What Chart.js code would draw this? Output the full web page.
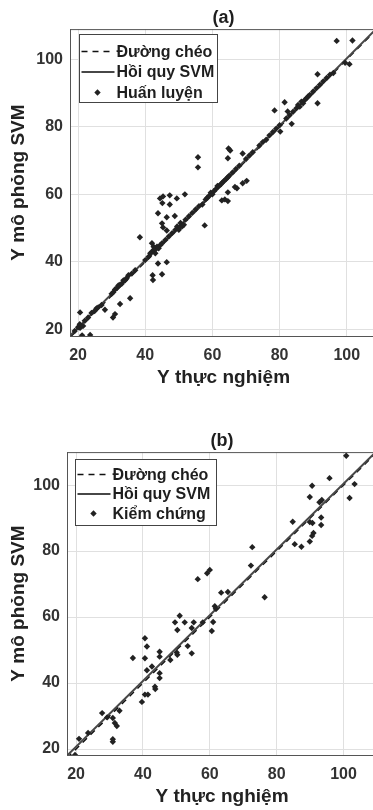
<!DOCTYPE html>
<html>
<head>
<meta charset="utf-8">
<script src="https://cdn.jsdelivr.net/npm/chart.js@4.4.1/dist/chart.umd.min.js"></script>
<style>
  html, body { margin: 0; padding: 0; background: #fff; overflow: hidden; }
  body { width: 373px; height: 810px; position: relative; }
  canvas { position: absolute; left: 0; }
  #chartA { top: 0; }
  #chartB { top: 423px; }
</style>
</head>
<body>
<canvas id="chartA" width="400" height="391"></canvas>
<canvas id="chartB" width="400" height="387"></canvas>
<script>
const xTicks = [20, 40, 60, 80, 100];
const yTicks = [20, 40, 60, 80, 100];

const titleA = '(a)';
const titleB = '(b)';
const xTitle = 'Y thực nghiệm';
const yTitle = 'Y mô phỏng SVM';
const legendA = ['Đường chéo', 'Hồi quy SVM', 'Huấn luyện'];
const legendB = ['Đường chéo', 'Hồi quy SVM', 'Kiểm chứng'];

// axis limits [xmin, xmax, ymin, ymax]
const limitsA = [17.6, 109, 18, 109];
const limitsB = [17.3, 110, 18.2, 110];

// diagonal y = x and the fitted SVM line, as end points
const diagA = [[17.6, 17.6], [109, 109]];
const svmA = [[17.6, 18.1], [109, 109.3]];
const diagB = [[17.3, 17.3], [110, 110]];
const svmB = [[17.3, 18], [110, 110.4]];

// training points (a)
const trainPoints = [
  [97, 105.5], [101.7, 105.6], [99.5, 99], [100.8, 98.6], [91.3, 95.6], [91.3, 87],
  [81.5, 87.3], [78.5, 84.9], [82.4, 84.6], [83.6, 80.9], [80.2, 78.6],
  [64.8, 73.6], [65.3, 73], [55.7, 71], [55.7, 68], [64.6, 70.7], [69, 72.1],
  [70.2, 64], [69, 63.3], [67.3, 61.8], [66.7, 62.2], [64.6, 60.6],
  [62.8, 58.2], [63.7, 58.5], [64.6, 58],
  [44.4, 58.8], [45.3, 59.4], [47.3, 59.7], [49.4, 58.8], [51.8, 60], [45.1, 57.4], [47.3, 57],
  [43.8, 54.4], [46.4, 53.2], [48.8, 53.6], [45, 51.4], [45.3, 50.2], [46.4, 49.3],
  [57.7, 50.8], [38.4, 47.3],
  [43.8, 39.5], [46.4, 39.9], [42.2, 36], [42.3, 34.6], [45, 36.3],
  [30.4, 23.5], [31, 24.5], [32.5, 27.5], [35.5, 29.2], [28, 25.8], [25.5, 26.2],
  [20.6, 25], [23.6, 18.3], [21.2, 18.2], [20.6, 20.4],
  // along the line
  [19, 19.5], [20, 20.6], [20.5, 21.5], [21.5, 21], [22, 22.5], [23, 23.5], [24, 24.8],
  [25, 25.5], [26, 26.5], [27, 27.2],
  [30, 30.5], [30.5, 31], [31, 31.8], [31.5, 32.2], [32, 33], [32.5, 33.2], [33, 33.5],
  [33.5, 34.5], [34, 34.5], [34.5, 35.2], [35, 36], [36, 36.5], [37, 37.5],
  [40, 40.5], [41, 41.5], [41.5, 42.5], [42, 43], [42, 45.5], [42.5, 44.5], [42.5, 43.5],
  [43, 42.5], [43, 44], [43.5, 44.5], [44, 44], [44.5, 45], [45, 45.5], [46, 46.5], [47, 47.5],
  [48, 48.5], [49, 49.5], [49.5, 50.5], [50, 49.5], [50.5, 50.5], [50.5, 51.5], [51, 50.5],
  [51.5, 51], [52, 52.5], [53, 53.5], [54, 54.5], [55, 55.5],
  [56, 56.5], [57, 57], [58, 58.5], [58.5, 59], [59, 59.5], [59.5, 60.5], [60, 60],
  [60.5, 61], [61, 61.5], [61.5, 62.5], [62, 62.5], [62.5, 63], [63, 63.5], [63.5, 64],
  [64, 64.5], [64.5, 65], [65, 65.5], [66, 66.5], [67, 67.5], [68, 68.5],
  [70, 70.5], [71, 71.5], [72, 72.5], [74, 74.5], [75, 75.5], [76, 76.2], [77, 77.5],
  [78, 78.5], [79, 79.5], [80, 80.5],
  [82, 82.5], [83, 83.5], [84, 84.5], [85, 85.5], [85.5, 86.5], [86, 86], [86.5, 87.5],
  [87, 87], [87.5, 88], [88, 88.5], [88.5, 89], [89, 89.5], [90, 90.5], [91, 91.5], [92, 92.5],
  [93, 93.5], [94, 94.5], [95, 95.5], [96, 96]
];

// validation points (b)
const testPoints = [
  [100.8, 108.9], [95.8, 102.1], [103.3, 100.3], [101.8, 96.1], [90.6, 99.8], [89.9, 96.4],
  [92.8, 94.8], [93.5, 95.5],
  [84.8, 88.9], [89.9, 88.8], [90.7, 88.5], [93.3, 90.2], [93.3, 87.9], [91, 85.5],
  [90.6, 84.6], [89.9, 82.9], [85.4, 82.1], [87.4, 81.3],
  [72.7, 81.2], [72.3, 75.6], [56.4, 71.5], [59.2, 73.3], [60, 74.3], [63.4, 67.4],
  [65.4, 67.6], [76.4, 66],
  [61.5, 63.3], [61.8, 62.5], [51, 60.4], [49.6, 58.4], [52.5, 58.4], [55.2, 58.4],
  [57.9, 58.4], [61, 58.5], [50.3, 56.1], [54.6, 56.7], [60.6, 55.8],
  [53.4, 51.2], [54.6, 49], [50.1, 49.3], [50.3, 48.6], [48.2, 47], [45, 49.5], [45, 48],
  [45, 43], [45, 41.5], [42.7, 45], [41.2, 43.9], [40.6, 53.6], [41.2, 51.1], [40.6, 47.5],
  [37, 47.6],
  [43.6, 38.9], [43.7, 38.2], [40.6, 36.5], [41.5, 36.5], [39.7, 34.3],
  [33, 31.6], [31, 29.4], [31.6, 27.9], [32.2, 27], [31, 23], [31, 22.2], [29.3, 29.6],
  [27.8, 30.9], [23.6, 24.9], [20.9, 23.1], [19.7, 18.2]
];

const font = '"Liberation Sans", Arial, sans-serif';
Chart.defaults.font.family = font;
Chart.defaults.color = '#333';

const toXY = list => list.map(p => ({ x: p[0], y: p[1] }));

function drawDiamond(ctx, x, y, r) {
  ctx.beginPath();
  ctx.moveTo(x, y - r);
  ctx.lineTo(x + r, y);
  ctx.lineTo(x, y + r);
  ctx.lineTo(x - r, y);
  ctx.closePath();
  ctx.fill();
}

// legend box inside the plot + top/right frame
const boxLegend = {
  id: 'boxLegend',
  afterDraw(chart, args, opts) {
    const { ctx, chartArea: area } = chart;
    ctx.save();
    ctx.strokeStyle = '#555';
    ctx.lineWidth = 1;
    ctx.beginPath();
    ctx.moveTo(area.left, area.top + 0.5);
    ctx.lineTo(area.right - 0.5, area.top + 0.5);
    ctx.lineTo(area.right - 0.5, area.bottom);
    ctx.stroke();

    const bx = Math.round(area.left + opts.dx) + 0.5;
    const by = Math.round(area.top + opts.dy) + 0.5;
    ctx.fillStyle = '#fff';
    ctx.fillRect(bx, by, opts.w, opts.h);
    ctx.strokeStyle = '#444';
    ctx.strokeRect(bx, by, opts.w, opts.h);

    const sets = chart.data.datasets;
    ctx.font = 'bold 16px ' + font;
    ctx.textBaseline = 'middle';
    ctx.textAlign = 'left';
    opts.labels.forEach((label, i) => {
      const ds = sets[i];
      const ry = by + opts.rows[i];
      if (ds.showLine) {
        ctx.strokeStyle = ds.borderColor;
        ctx.lineWidth = ds.borderWidth;
        ctx.setLineDash(ds.borderDash || []);
        ctx.beginPath();
        ctx.moveTo(bx + 2, ry);
        ctx.lineTo(bx + 35, ry);
        ctx.stroke();
        ctx.setLineDash([]);
      } else {
        ctx.fillStyle = ds.backgroundColor;
        drawDiamond(ctx, bx + 18, ry, ds.pointRadius);
      }
      ctx.fillStyle = '#1e1e1e';
      ctx.fillText(label, bx + 37, ry + 1);
    });
    ctx.restore();
  }
};

function makeChart(id, cfg) {
  const lim = cfg.limits;
  return new Chart(document.getElementById(id), {
    type: 'scatter',
    data: {
      datasets: [
        {
          label: cfg.legend[0],
          data: toXY(cfg.diag),
          showLine: true,
          borderColor: '#111',
          borderWidth: 1.5,
          borderDash: [6, 5],
          pointRadius: 0,
          order: 2
        },
        {
          label: cfg.legend[1],
          data: toXY(cfg.svm),
          showLine: true,
          borderColor: '#474747',
          borderWidth: 2,
          pointRadius: 0,
          order: 1
        },
        {
          label: cfg.legend[2],
          data: toXY(cfg.points),
          backgroundColor: '#222',
          borderWidth: 0,
          pointStyle: 'rectRot',
          pointRadius: 3.2,
          order: 0
        }
      ]
    },
    options: {
      responsive: false,
      animation: false,
      devicePixelRatio: 1,
      layout: { padding: { left: 0, right: 23, top: 0, bottom: 0 } },
      scales: {
        x: {
          type: 'linear',
          min: lim[0],
          max: lim[1],
          afterBuildTicks: s => { s.ticks = xTicks.map(v => ({ value: v })); },
          afterFit: s => { s.height = 55; },
          ticks: { font: { size: 16, weight: 'bold' }, color: '#333', padding: 10 },
          grid: { color: '#e0e0e0', drawTicks: false },
          border: { color: '#555', width: 1 },
          title: {
            display: true,
            text: xTitle,
            color: '#222',
            font: { size: 19, weight: 'bold' },
            padding: { top: 0, bottom: 1.6 }
          }
        },
        y: {
          type: 'linear',
          min: lim[2],
          max: lim[3],
          afterBuildTicks: s => { s.ticks = yTicks.map(v => ({ value: v })); },
          afterFit: s => { s.width = cfg.yWidth; },
          ticks: { font: { size: 16, weight: 'bold' }, color: '#333', padding: 7 },
          grid: { color: '#e0e0e0', drawTicks: false },
          border: { color: '#555', width: 1 },
          title: {
            display: true,
            text: yTitle,
            color: '#222',
            font: { size: 19, weight: 'bold' },
            padding: { top: 7.6, bottom: 0 }
          }
        }
      },
      plugins: {
        legend: { display: false },
        tooltip: { enabled: false },
        title: {
          display: true,
          text: cfg.title,
          fullSize: false,
          color: '#1e1e1e',
          font: { size: 18, weight: 'bold' },
          padding: { top: 7.5, bottom: 0 }
        },
        boxLegend: {
          labels: cfg.legend,
          dx: cfg.box[0], dy: cfg.box[1], w: cfg.box[2], h: cfg.box[3],
          rows: cfg.rows
        }
      }
    },
    plugins: [boxLegend]
  });
}

makeChart('chartA', {
  title: titleA, legend: legendA, limits: limitsA,
  diag: diagA, svm: svmA, points: trainPoints,
  yWidth: 70, box: [9, 5, 138, 68], rows: [17, 37.5, 58]
});

makeChart('chartB', {
  title: titleB, legend: legendB, limits: limitsB,
  diag: diagB, svm: svmB, points: testPoints,
  yWidth: 67, box: [8, 7, 141, 66], rows: [15, 34.5, 54]
});
</script>
</body>
</html>
